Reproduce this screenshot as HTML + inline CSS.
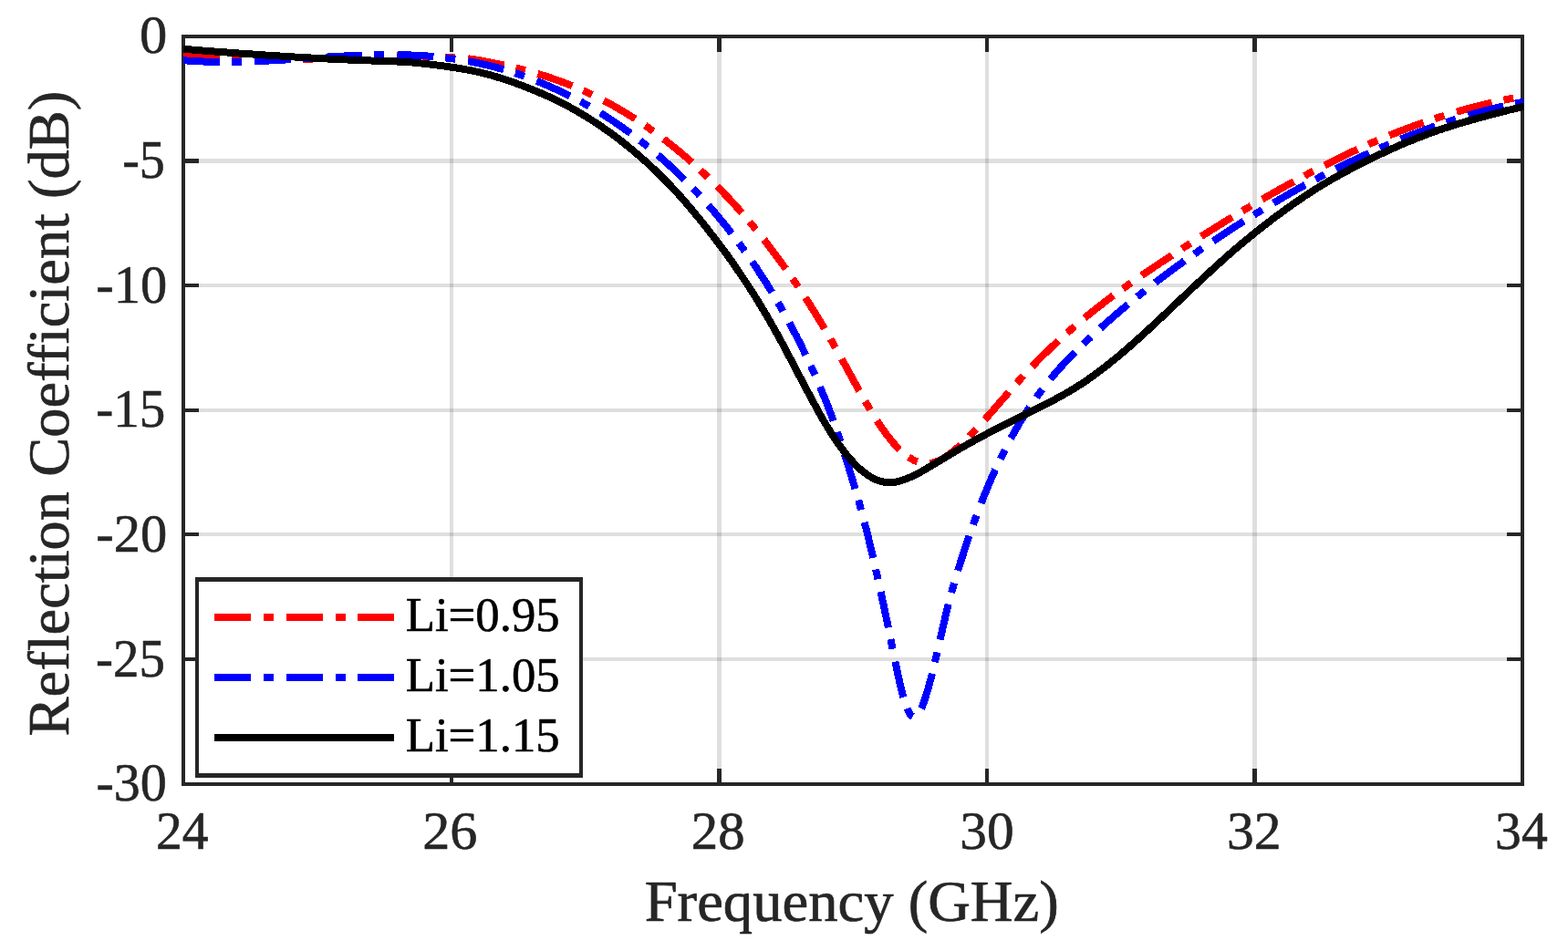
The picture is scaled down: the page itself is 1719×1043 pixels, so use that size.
<!DOCTYPE html>
<html lang="en">
<head>
<meta charset="utf-8">
<title>Reflection Coefficient vs Frequency</title>
<style>
html,body{margin:0;padding:0;background:#fff;}
body{width:1719px;height:1043px;overflow:hidden;}
svg{display:block;}
text{font-family:"Liberation Serif",serif;fill:#262626;stroke:#262626;stroke-linejoin:round;}
.tk{font-size:58.0px;stroke-width:0.6px;}
.lb{font-size:64.0px;stroke-width:0.7px;}
.lg{font-size:54.5px;stroke-width:0.6px;fill:#000;stroke:#000;}
</style>
</head>
<body>
<svg width="1719" height="1043" viewBox="0 0 1719 1043">
<rect x="0" y="0" width="1719" height="1043" fill="#ffffff"/>
<defs><clipPath id="ax"><rect x="201.0" y="40.0" width="1469.5" height="820.0"/></clipPath></defs>

<g fill="#262626" fill-opacity="0.15" shape-rendering="crispEdges">
<rect x="493" y="42" width="4" height="816"/>
<rect x="786" y="42" width="5" height="816"/>
<rect x="1080" y="42" width="4" height="816"/>
<rect x="1373" y="42" width="5" height="816"/>
<rect x="203" y="174" width="1464" height="5"/>
<rect x="203" y="311" width="1464" height="4"/>
<rect x="203" y="448" width="1464" height="4"/>
<rect x="203" y="584" width="1464" height="4"/>
<rect x="203" y="721" width="1464" height="4"/>
</g>
<g fill="#262626" shape-rendering="crispEdges">
<rect x="493" y="40" width="4" height="17"/>
<rect x="493" y="843" width="4" height="17"/>
<rect x="786" y="40" width="5" height="17"/>
<rect x="786" y="843" width="5" height="17"/>
<rect x="1080" y="40" width="4" height="17"/>
<rect x="1080" y="843" width="4" height="17"/>
<rect x="1373" y="40" width="5" height="17"/>
<rect x="1373" y="843" width="5" height="17"/>
<rect x="201" y="174" width="17" height="5"/>
<rect x="1652" y="174" width="17" height="5"/>
<rect x="201" y="311" width="17" height="4"/>
<rect x="1652" y="311" width="17" height="4"/>
<rect x="201" y="448" width="17" height="4"/>
<rect x="1652" y="448" width="17" height="4"/>
<rect x="201" y="584" width="17" height="4"/>
<rect x="1652" y="584" width="17" height="4"/>
<rect x="201" y="721" width="17" height="4"/>
<rect x="1652" y="721" width="17" height="4"/>
</g>
<rect x="201.0" y="40.0" width="1468.0" height="820.0" fill="none" stroke="#262626" stroke-width="4.0" shape-rendering="crispEdges"/>
<g clip-path="url(#ax)" fill="none" stroke-linejoin="round" shape-rendering="crispEdges">
<path d="M201.0,60.4 L203.0,60.6 L205.0,60.8 L207.0,61.0 L209.0,61.2 L211.0,61.4 L213.0,61.6 L215.0,61.7 L217.0,61.9 L219.0,62.0 L221.0,62.2 L223.0,62.3 L225.0,62.5 L227.0,62.6 L229.0,62.7 L231.0,62.9 L233.0,63.0 L235.0,63.1 L237.0,63.2 L239.0,63.3 L241.0,63.4 L243.0,63.5 L245.0,63.5 L247.0,63.6 L249.0,63.7 L251.0,63.8 L253.0,63.8 L255.0,63.9 L257.0,63.9 L259.0,64.0 L261.0,64.0 L263.0,64.1 L265.0,64.1 L267.0,64.1 L269.0,64.2 L271.0,64.2 L273.0,64.2 L275.0,64.2 L277.0,64.2 L279.0,64.2 L281.0,64.2 L283.0,64.2 L285.0,64.2 L287.0,64.2 L289.0,64.2 L291.0,64.2 L293.0,64.2 L295.0,64.2 L297.0,64.1 L299.0,64.1 L301.0,64.1 L303.0,64.1 L305.0,64.1 L307.0,64.2 L309.0,64.2 L311.0,64.3 L313.0,64.3 L315.0,64.4 L317.0,64.5 L319.0,64.6 L321.0,64.7 L323.0,64.7 L325.0,64.8 L327.0,64.9 L329.0,64.9 L331.0,64.9 L333.0,64.9 L335.0,64.9 L337.0,64.9 L339.0,64.8 L341.0,64.7 L343.0,64.6 L345.0,64.5 L347.0,64.4 L349.0,64.2 L351.0,64.1 L353.0,63.9 L355.0,63.8 L357.0,63.6 L359.0,63.4 L361.0,63.3 L363.0,63.1 L365.0,62.9 L367.0,62.8 L369.0,62.6 L371.0,62.5 L373.0,62.4 L375.0,62.2 L377.0,62.1 L379.0,62.0 L381.0,62.0 L383.0,61.9 L385.0,61.8 L387.0,61.8 L389.0,61.7 L391.0,61.6 L393.0,61.6 L395.0,61.5 L397.0,61.5 L399.0,61.4 L401.0,61.4 L403.0,61.3 L405.0,61.3 L407.0,61.2 L409.0,61.2 L411.0,61.2 L413.0,61.1 L415.0,61.1 L417.0,61.1 L419.0,61.0 L421.0,61.0 L423.0,61.0 L425.0,61.0 L427.0,61.0 L429.0,61.0 L431.0,61.0 L433.0,61.0 L435.0,61.0 L437.0,61.0 L439.0,61.0 L441.0,61.0 L443.0,61.0 L445.0,61.1 L447.0,61.1 L449.0,61.1 L451.0,61.2 L453.0,61.2 L455.0,61.3 L457.0,61.3 L459.0,61.4 L461.0,61.4 L463.0,61.5 L465.0,61.5 L467.0,61.6 L469.0,61.7 L471.0,61.8 L473.0,61.8 L475.0,61.9 L477.0,62.0 L479.0,62.1 L481.0,62.2 L483.0,62.3 L485.0,62.4 L487.0,62.5 L489.0,62.6 L491.0,62.7 L493.0,62.8 L495.0,62.9 L497.0,63.0 L499.0,63.1 L501.0,63.2 L503.0,63.4 L505.0,63.5 L507.0,63.7 L509.0,63.9 L511.0,64.1 L513.0,64.3 L515.0,64.5 L517.0,64.8 L519.0,65.1 L521.0,65.4 L523.0,65.7 L525.0,66.0 L527.0,66.4 L529.0,66.7 L531.0,67.1 L533.0,67.5 L535.0,67.9 L537.0,68.3 L539.0,68.7 L541.0,69.1 L543.0,69.5 L545.0,70.0 L547.0,70.4 L549.0,70.8 L551.0,71.2 L553.0,71.7 L555.0,72.1 L557.0,72.5 L559.0,73.0 L561.0,73.4 L563.0,73.9 L565.0,74.4 L567.0,74.9 L569.0,75.3 L571.0,75.8 L573.0,76.4 L575.0,76.9 L577.0,77.4 L579.0,77.9 L581.0,78.5 L583.0,79.0 L585.0,79.6 L587.0,80.2 L589.0,80.8 L591.0,81.4 L593.0,82.0 L595.0,82.6 L597.0,83.2 L599.0,83.9 L601.0,84.5 L603.0,85.2 L605.0,85.9 L607.0,86.6 L609.0,87.3 L611.0,88.0 L613.0,88.7 L615.0,89.4 L617.0,90.2 L619.0,90.9 L621.0,91.7 L623.0,92.5 L625.0,93.3 L627.0,94.1 L629.0,94.9 L631.0,95.7 L633.0,96.6 L635.0,97.4 L637.0,98.3 L639.0,99.2 L641.0,100.1 L643.0,101.0 L645.0,101.9 L647.0,102.9 L649.0,103.8 L651.0,104.8 L653.0,105.8 L655.0,106.8 L657.0,107.8 L659.0,108.8 L661.0,109.8 L663.0,110.9 L665.0,111.9 L667.0,113.0 L669.0,114.1 L671.0,115.2 L673.0,116.3 L675.0,117.5 L677.0,118.6 L679.0,119.8 L681.0,121.0 L683.0,122.1 L685.0,123.3 L687.0,124.6 L689.0,125.8 L691.0,127.0 L693.0,128.3 L695.0,129.6 L697.0,130.9 L699.0,132.2 L701.0,133.5 L703.0,134.8 L705.0,136.2 L707.0,137.6 L709.0,138.9 L711.0,140.3 L713.0,141.7 L715.0,143.2 L717.0,144.6 L719.0,146.1 L721.0,147.5 L723.0,149.0 L725.0,150.5 L727.0,152.0 L729.0,153.6 L731.0,155.1 L733.0,156.7 L735.0,158.3 L737.0,159.9 L739.0,161.5 L741.0,163.1 L743.0,164.7 L745.0,166.4 L747.0,168.1 L749.0,169.8 L751.0,171.5 L753.0,173.2 L755.0,175.0 L757.0,176.7 L759.0,178.5 L761.0,180.3 L763.0,182.1 L765.0,184.0 L767.0,185.8 L769.0,187.7 L771.0,189.6 L773.0,191.5 L775.0,193.4 L777.0,195.3 L779.0,197.2 L781.0,199.2 L783.0,201.2 L785.0,203.2 L787.0,205.2 L789.0,207.2 L791.0,209.2 L793.0,211.3 L795.0,213.4 L797.0,215.5 L799.0,217.6 L801.0,219.7 L803.0,221.9 L805.0,224.1 L807.0,226.3 L809.0,228.5 L811.0,230.8 L813.0,233.0 L815.0,235.3 L817.0,237.7 L819.0,240.0 L821.0,242.4 L823.0,244.8 L825.0,247.2 L827.0,249.7 L829.0,252.1 L831.0,254.6 L833.0,257.1 L835.0,259.6 L837.0,262.2 L839.0,264.7 L841.0,267.3 L843.0,269.9 L845.0,272.5 L847.0,275.2 L849.0,277.9 L851.0,280.5 L853.0,283.2 L855.0,286.0 L857.0,288.7 L859.0,291.5 L861.0,294.3 L863.0,297.1 L865.0,299.9 L867.0,302.8 L869.0,305.7 L871.0,308.6 L873.0,311.5 L875.0,314.5 L877.0,317.5 L879.0,320.5 L881.0,323.5 L883.0,326.6 L885.0,329.7 L887.0,332.9 L889.0,336.0 L891.0,339.2 L893.0,342.4 L895.0,345.7 L897.0,348.9 L899.0,352.2 L901.0,355.5 L903.0,358.9 L905.0,362.3 L907.0,365.7 L909.0,369.1 L911.0,372.6 L913.0,376.1 L915.0,379.6 L917.0,383.2 L919.0,386.8 L921.0,390.4 L923.0,394.0 L925.0,397.7 L927.0,401.3 L929.0,405.0 L931.0,408.6 L933.0,412.3 L935.0,415.9 L937.0,419.6 L939.0,423.2 L941.0,426.8 L943.0,430.4 L945.0,433.9 L947.0,437.4 L949.0,440.9 L951.0,444.3 L953.0,447.7 L955.0,451.0 L957.0,454.3 L959.0,457.5 L961.0,460.6 L963.0,463.7 L965.0,466.7 L967.0,469.6 L969.0,472.4 L971.0,475.2 L973.0,477.9 L975.0,480.4 L977.0,482.9 L979.0,485.3 L981.0,487.6 L983.0,489.8 L985.0,491.9 L987.0,493.8 L989.0,495.7 L991.0,497.4 L993.0,499.1 L995.0,500.6 L997.0,502.0 L999.0,503.2 L1001.0,504.3 L1003.0,505.3 L1005.0,506.2 L1007.0,506.9 L1009.0,507.5 L1011.0,507.9 L1013.0,508.2 L1015.0,508.4 L1017.0,508.4 L1019.0,508.2 L1021.0,507.9 L1023.0,507.4 L1025.0,506.8 L1027.0,506.1 L1029.0,505.3 L1031.0,504.3 L1033.0,503.3 L1035.0,502.1 L1037.0,500.8 L1039.0,499.5 L1041.0,498.0 L1043.0,496.5 L1045.0,494.9 L1047.0,493.3 L1049.0,491.6 L1051.0,489.8 L1053.0,488.0 L1055.0,486.1 L1057.0,484.2 L1059.0,482.3 L1061.0,480.3 L1063.0,478.2 L1065.0,476.2 L1067.0,474.1 L1069.0,472.0 L1071.0,469.8 L1073.0,467.6 L1075.0,465.4 L1077.0,463.2 L1079.0,461.0 L1081.0,458.7 L1083.0,456.5 L1085.0,454.2 L1087.0,451.9 L1089.0,449.6 L1091.0,447.3 L1093.0,445.0 L1095.0,442.7 L1097.0,440.4 L1099.0,438.1 L1101.0,435.8 L1103.0,433.5 L1105.0,431.2 L1107.0,428.9 L1109.0,426.6 L1111.0,424.3 L1113.0,422.1 L1115.0,419.8 L1117.0,417.6 L1119.0,415.4 L1121.0,413.2 L1123.0,411.0 L1125.0,408.9 L1127.0,406.7 L1129.0,404.6 L1131.0,402.5 L1133.0,400.4 L1135.0,398.4 L1137.0,396.3 L1139.0,394.3 L1141.0,392.3 L1143.0,390.3 L1145.0,388.3 L1147.0,386.4 L1149.0,384.5 L1151.0,382.5 L1153.0,380.6 L1155.0,378.7 L1157.0,376.9 L1159.0,375.0 L1161.0,373.2 L1163.0,371.3 L1165.0,369.5 L1167.0,367.7 L1169.0,365.9 L1171.0,364.1 L1173.0,362.4 L1175.0,360.6 L1177.0,358.9 L1179.0,357.2 L1181.0,355.5 L1183.0,353.8 L1185.0,352.1 L1187.0,350.5 L1189.0,348.8 L1191.0,347.2 L1193.0,345.5 L1195.0,343.9 L1197.0,342.3 L1199.0,340.7 L1201.0,339.1 L1203.0,337.6 L1205.0,336.0 L1207.0,334.4 L1209.0,332.9 L1211.0,331.4 L1213.0,329.8 L1215.0,328.3 L1217.0,326.8 L1219.0,325.3 L1221.0,323.8 L1223.0,322.4 L1225.0,320.9 L1227.0,319.4 L1229.0,318.0 L1231.0,316.5 L1233.0,315.1 L1235.0,313.7 L1237.0,312.3 L1239.0,310.8 L1241.0,309.4 L1243.0,308.0 L1245.0,306.6 L1247.0,305.3 L1249.0,303.9 L1251.0,302.5 L1253.0,301.1 L1255.0,299.8 L1257.0,298.4 L1259.0,297.1 L1261.0,295.7 L1263.0,294.4 L1265.0,293.0 L1267.0,291.7 L1269.0,290.4 L1271.0,289.0 L1273.0,287.7 L1275.0,286.4 L1277.0,285.1 L1279.0,283.7 L1281.0,282.4 L1283.0,281.1 L1285.0,279.8 L1287.0,278.5 L1289.0,277.2 L1291.0,275.9 L1293.0,274.6 L1295.0,273.3 L1297.0,272.0 L1299.0,270.7 L1301.0,269.4 L1303.0,268.1 L1305.0,266.9 L1307.0,265.6 L1309.0,264.3 L1311.0,263.0 L1313.0,261.7 L1315.0,260.5 L1317.0,259.2 L1319.0,257.9 L1321.0,256.7 L1323.0,255.4 L1325.0,254.2 L1327.0,252.9 L1329.0,251.7 L1331.0,250.4 L1333.0,249.2 L1335.0,247.9 L1337.0,246.7 L1339.0,245.4 L1341.0,244.2 L1343.0,243.0 L1345.0,241.7 L1347.0,240.5 L1349.0,239.3 L1351.0,238.1 L1353.0,236.9 L1355.0,235.7 L1357.0,234.4 L1359.0,233.2 L1361.0,232.0 L1363.0,230.8 L1365.0,229.6 L1367.0,228.5 L1369.0,227.3 L1371.0,226.1 L1373.0,224.9 L1375.0,223.7 L1377.0,222.5 L1379.0,221.4 L1381.0,220.2 L1383.0,219.0 L1385.0,217.9 L1387.0,216.7 L1389.0,215.6 L1391.0,214.4 L1393.0,213.3 L1395.0,212.1 L1397.0,211.0 L1399.0,209.9 L1401.0,208.8 L1403.0,207.6 L1405.0,206.5 L1407.0,205.4 L1409.0,204.3 L1411.0,203.2 L1413.0,202.1 L1415.0,201.0 L1417.0,199.9 L1419.0,198.8 L1421.0,197.7 L1423.0,196.6 L1425.0,195.5 L1427.0,194.4 L1429.0,193.4 L1431.0,192.3 L1433.0,191.3 L1435.0,190.2 L1437.0,189.1 L1439.0,188.1 L1441.0,187.1 L1443.0,186.0 L1445.0,185.0 L1447.0,183.9 L1449.0,182.9 L1451.0,181.9 L1453.0,180.9 L1455.0,179.9 L1457.0,178.9 L1459.0,177.9 L1461.0,176.9 L1463.0,175.9 L1465.0,174.9 L1467.0,173.9 L1469.0,172.9 L1471.0,172.0 L1473.0,171.0 L1475.0,170.0 L1477.0,169.1 L1479.0,168.1 L1481.0,167.2 L1483.0,166.2 L1485.0,165.3 L1487.0,164.4 L1489.0,163.4 L1491.0,162.5 L1493.0,161.6 L1495.0,160.7 L1497.0,159.8 L1499.0,158.9 L1501.0,158.0 L1503.0,157.1 L1505.0,156.2 L1507.0,155.4 L1509.0,154.5 L1511.0,153.6 L1513.0,152.8 L1515.0,151.9 L1517.0,151.1 L1519.0,150.3 L1521.0,149.4 L1523.0,148.6 L1525.0,147.8 L1527.0,147.0 L1529.0,146.2 L1531.0,145.4 L1533.0,144.6 L1535.0,143.8 L1537.0,143.1 L1539.0,142.3 L1541.0,141.5 L1543.0,140.8 L1545.0,140.0 L1547.0,139.3 L1549.0,138.6 L1551.0,137.8 L1553.0,137.1 L1555.0,136.4 L1557.0,135.7 L1559.0,135.0 L1561.0,134.3 L1563.0,133.6 L1565.0,132.9 L1567.0,132.2 L1569.0,131.5 L1571.0,130.9 L1573.0,130.2 L1575.0,129.5 L1577.0,128.9 L1579.0,128.2 L1581.0,127.6 L1583.0,127.0 L1585.0,126.3 L1587.0,125.7 L1589.0,125.1 L1591.0,124.5 L1593.0,123.9 L1595.0,123.3 L1597.0,122.7 L1599.0,122.1 L1601.0,121.5 L1603.0,120.9 L1605.0,120.4 L1607.0,119.8 L1609.0,119.2 L1611.0,118.7 L1613.0,118.2 L1615.0,117.6 L1617.0,117.1 L1619.0,116.6 L1621.0,116.1 L1623.0,115.6 L1625.0,115.1 L1627.0,114.6 L1629.0,114.1 L1631.0,113.6 L1633.0,113.1 L1635.0,112.7 L1637.0,112.2 L1639.0,111.8 L1641.0,111.3 L1643.0,110.9 L1645.0,110.5 L1647.0,110.0 L1649.0,109.6 L1651.0,109.2 L1653.0,108.8 L1655.0,108.4 L1657.0,108.0 L1659.0,107.7 L1661.0,107.3 L1663.0,106.9 L1665.0,106.6 L1667.0,106.2 L1669.0,105.9 L1672.0,105.4" stroke="#ff0000" stroke-width="8.0" stroke-dasharray="40.1 13 11 14.05" stroke-dashoffset="0.0"/>
<path d="M201.0,66.2 L203.0,66.3 L205.0,66.5 L207.0,66.6 L209.0,66.8 L211.0,66.9 L213.0,67.0 L215.0,67.1 L217.0,67.2 L219.0,67.3 L221.0,67.4 L223.0,67.5 L225.0,67.6 L227.0,67.6 L229.0,67.7 L231.0,67.7 L233.0,67.8 L235.0,67.8 L237.0,67.9 L239.0,67.9 L241.0,67.9 L243.0,67.9 L245.0,67.9 L247.0,67.9 L249.0,67.9 L251.0,67.9 L253.0,67.9 L255.0,67.9 L257.0,67.9 L259.0,67.8 L261.0,67.8 L263.0,67.8 L265.0,67.7 L267.0,67.7 L269.0,67.6 L271.0,67.5 L273.0,67.5 L275.0,67.4 L277.0,67.3 L279.0,67.3 L281.0,67.2 L283.0,67.1 L285.0,67.0 L287.0,66.9 L289.0,66.8 L291.0,66.7 L293.0,66.6 L295.0,66.5 L297.0,66.4 L299.0,66.3 L301.0,66.2 L303.0,66.1 L305.0,66.0 L307.0,65.9 L309.0,65.8 L311.0,65.6 L313.0,65.5 L315.0,65.4 L317.0,65.3 L319.0,65.1 L321.0,65.0 L323.0,64.9 L325.0,64.8 L327.0,64.6 L329.0,64.5 L331.0,64.4 L333.0,64.2 L335.0,64.1 L337.0,64.0 L339.0,63.8 L341.0,63.7 L343.0,63.6 L345.0,63.4 L347.0,63.3 L349.0,63.2 L351.0,63.1 L353.0,62.9 L355.0,62.8 L357.0,62.7 L359.0,62.5 L361.0,62.4 L363.0,62.3 L365.0,62.2 L367.0,62.1 L369.0,61.9 L371.0,61.8 L373.0,61.7 L375.0,61.6 L377.0,61.5 L379.0,61.4 L381.0,61.3 L383.0,61.2 L385.0,61.1 L387.0,61.0 L389.0,60.9 L391.0,60.8 L393.0,60.8 L395.0,60.7 L397.0,60.6 L399.0,60.5 L401.0,60.5 L403.0,60.4 L405.0,60.3 L407.0,60.3 L409.0,60.2 L411.0,60.2 L413.0,60.1 L415.0,60.1 L417.0,60.1 L419.0,60.1 L421.0,60.0 L423.0,60.0 L425.0,60.0 L427.0,60.0 L429.0,60.0 L431.0,60.0 L433.0,60.0 L435.0,60.0 L437.0,60.1 L439.0,60.1 L441.0,60.1 L443.0,60.2 L445.0,60.2 L447.0,60.3 L449.0,60.4 L451.0,60.5 L453.0,60.5 L455.0,60.6 L457.0,60.7 L459.0,60.8 L461.0,60.9 L463.0,61.1 L465.0,61.2 L467.0,61.3 L469.0,61.5 L471.0,61.6 L473.0,61.8 L475.0,62.0 L477.0,62.1 L479.0,62.3 L481.0,62.5 L483.0,62.7 L485.0,63.0 L487.0,63.2 L489.0,63.4 L491.0,63.7 L493.0,63.9 L495.0,64.2 L497.0,64.5 L499.0,64.8 L501.0,65.0 L503.0,65.4 L505.0,65.7 L507.0,66.0 L509.0,66.3 L511.0,66.7 L513.0,67.1 L515.0,67.4 L517.0,67.8 L519.0,68.2 L521.0,68.6 L523.0,69.0 L525.0,69.4 L527.0,69.9 L529.0,70.3 L531.0,70.8 L533.0,71.2 L535.0,71.7 L537.0,72.2 L539.0,72.7 L541.0,73.2 L543.0,73.7 L545.0,74.2 L547.0,74.8 L549.0,75.3 L551.0,75.9 L553.0,76.5 L555.0,77.1 L557.0,77.7 L559.0,78.3 L561.0,78.9 L563.0,79.5 L565.0,80.2 L567.0,80.9 L569.0,81.5 L571.0,82.2 L573.0,82.9 L575.0,83.7 L577.0,84.4 L579.0,85.2 L581.0,85.9 L583.0,86.7 L585.0,87.5 L587.0,88.3 L589.0,89.1 L591.0,89.9 L593.0,90.7 L595.0,91.6 L597.0,92.4 L599.0,93.3 L601.0,94.1 L603.0,95.0 L605.0,95.9 L607.0,96.8 L609.0,97.7 L611.0,98.6 L613.0,99.5 L615.0,100.4 L617.0,101.4 L619.0,102.4 L621.0,103.3 L623.0,104.3 L625.0,105.3 L627.0,106.3 L629.0,107.4 L631.0,108.4 L633.0,109.4 L635.0,110.5 L637.0,111.6 L639.0,112.7 L641.0,113.8 L643.0,114.9 L645.0,116.0 L647.0,117.1 L649.0,118.3 L651.0,119.5 L653.0,120.6 L655.0,121.8 L657.0,123.1 L659.0,124.3 L661.0,125.5 L663.0,126.8 L665.0,128.1 L667.0,129.4 L669.0,130.7 L671.0,132.0 L673.0,133.3 L675.0,134.7 L677.0,136.1 L679.0,137.4 L681.0,138.8 L683.0,140.3 L685.0,141.7 L687.0,143.1 L689.0,144.6 L691.0,146.0 L693.0,147.5 L695.0,149.0 L697.0,150.5 L699.0,152.1 L701.0,153.6 L703.0,155.2 L705.0,156.7 L707.0,158.3 L709.0,159.9 L711.0,161.5 L713.0,163.2 L715.0,164.8 L717.0,166.5 L719.0,168.2 L721.0,169.9 L723.0,171.6 L725.0,173.4 L727.0,175.1 L729.0,176.9 L731.0,178.7 L733.0,180.5 L735.0,182.4 L737.0,184.2 L739.0,186.1 L741.0,188.0 L743.0,189.9 L745.0,191.8 L747.0,193.8 L749.0,195.7 L751.0,197.7 L753.0,199.7 L755.0,201.8 L757.0,203.8 L759.0,205.9 L761.0,208.0 L763.0,210.1 L765.0,212.2 L767.0,214.4 L769.0,216.5 L771.0,218.7 L773.0,221.0 L775.0,223.2 L777.0,225.5 L779.0,227.8 L781.0,230.1 L783.0,232.4 L785.0,234.8 L787.0,237.2 L789.0,239.6 L791.0,242.0 L793.0,244.5 L795.0,246.9 L797.0,249.4 L799.0,252.0 L801.0,254.5 L803.0,257.1 L805.0,259.8 L807.0,262.4 L809.0,265.1 L811.0,267.8 L813.0,270.5 L815.0,273.3 L817.0,276.0 L819.0,278.9 L821.0,281.7 L823.0,284.6 L825.0,287.5 L827.0,290.5 L829.0,293.4 L831.0,296.5 L833.0,299.5 L835.0,302.6 L837.0,305.7 L839.0,308.8 L841.0,312.0 L843.0,315.2 L845.0,318.5 L847.0,321.8 L849.0,325.1 L851.0,328.5 L853.0,331.9 L855.0,335.3 L857.0,338.8 L859.0,342.4 L861.0,345.9 L863.0,349.6 L865.0,353.2 L867.0,357.0 L869.0,360.7 L871.0,364.6 L873.0,368.4 L875.0,372.4 L877.0,376.4 L879.0,380.4 L881.0,384.5 L883.0,388.7 L885.0,392.9 L887.0,397.2 L889.0,401.5 L891.0,406.0 L893.0,410.4 L895.0,415.0 L897.0,419.6 L899.0,424.3 L901.0,429.1 L903.0,433.9 L905.0,438.8 L907.0,443.9 L909.0,449.0 L911.0,454.3 L913.0,459.7 L915.0,465.2 L917.0,470.9 L919.0,476.8 L921.0,482.8 L923.0,489.0 L925.0,495.3 L927.0,501.6 L929.0,508.0 L931.0,514.4 L933.0,521.0 L935.0,527.6 L937.0,534.3 L939.0,541.1 L941.0,548.1 L943.0,555.3 L945.0,562.6 L947.0,570.1 L949.0,577.9 L951.0,585.8 L953.0,594.0 L955.0,602.3 L957.0,610.8 L959.0,619.5 L961.0,628.3 L963.0,637.3 L965.0,646.4 L967.0,655.7 L969.0,665.1 L971.0,674.6 L973.0,684.2 L975.0,694.0 L977.0,703.8 L979.0,713.7 L981.0,723.5 L983.0,733.2 L985.0,742.5 L987.0,751.3 L989.0,759.4 L991.0,766.8 L993.0,773.2 L995.0,778.4 L997.0,782.4 L999.0,785.0 L1001.0,786.2 L1003.0,786.1 L1005.0,784.9 L1007.0,782.5 L1009.0,779.1 L1011.0,774.7 L1013.0,769.6 L1015.0,763.6 L1017.0,757.0 L1019.0,749.9 L1021.0,742.2 L1023.0,734.2 L1025.0,725.8 L1027.0,717.3 L1029.0,708.5 L1031.0,699.8 L1033.0,691.0 L1035.0,682.4 L1037.0,673.9 L1039.0,665.7 L1041.0,657.9 L1043.0,650.5 L1045.0,643.3 L1047.0,636.4 L1049.0,629.7 L1051.0,623.2 L1053.0,616.7 L1055.0,610.5 L1057.0,604.3 L1059.0,598.2 L1061.0,592.3 L1063.0,586.4 L1065.0,580.7 L1067.0,575.1 L1069.0,569.6 L1071.0,564.1 L1073.0,558.8 L1075.0,553.6 L1077.0,548.5 L1079.0,543.5 L1081.0,538.6 L1083.0,533.8 L1085.0,529.1 L1087.0,524.5 L1089.0,519.9 L1091.0,515.5 L1093.0,511.1 L1095.0,506.9 L1097.0,502.7 L1099.0,498.6 L1101.0,494.6 L1103.0,490.7 L1105.0,486.8 L1107.0,483.0 L1109.0,479.3 L1111.0,475.7 L1113.0,472.1 L1115.0,468.7 L1117.0,465.2 L1119.0,461.9 L1121.0,458.6 L1123.0,455.4 L1125.0,452.3 L1127.0,449.2 L1129.0,446.2 L1131.0,443.2 L1133.0,440.3 L1135.0,437.4 L1137.0,434.6 L1139.0,431.9 L1141.0,429.2 L1143.0,426.6 L1145.0,424.0 L1147.0,421.4 L1149.0,418.9 L1151.0,416.5 L1153.0,414.0 L1155.0,411.7 L1157.0,409.3 L1159.0,407.0 L1161.0,404.8 L1163.0,402.6 L1165.0,400.4 L1167.0,398.2 L1169.0,396.1 L1171.0,394.0 L1173.0,391.9 L1175.0,389.8 L1177.0,387.8 L1179.0,385.8 L1181.0,383.8 L1183.0,381.9 L1185.0,379.9 L1187.0,378.0 L1189.0,376.1 L1191.0,374.2 L1193.0,372.3 L1195.0,370.4 L1197.0,368.6 L1199.0,366.7 L1201.0,364.9 L1203.0,363.1 L1205.0,361.2 L1207.0,359.4 L1209.0,357.6 L1211.0,355.8 L1213.0,354.1 L1215.0,352.3 L1217.0,350.5 L1219.0,348.8 L1221.0,347.0 L1223.0,345.3 L1225.0,343.6 L1227.0,341.9 L1229.0,340.2 L1231.0,338.5 L1233.0,336.8 L1235.0,335.1 L1237.0,333.5 L1239.0,331.8 L1241.0,330.2 L1243.0,328.5 L1245.0,326.9 L1247.0,325.3 L1249.0,323.7 L1251.0,322.1 L1253.0,320.5 L1255.0,318.9 L1257.0,317.3 L1259.0,315.7 L1261.0,314.2 L1263.0,312.6 L1265.0,311.1 L1267.0,309.5 L1269.0,308.0 L1271.0,306.5 L1273.0,305.0 L1275.0,303.5 L1277.0,301.9 L1279.0,300.5 L1281.0,299.0 L1283.0,297.5 L1285.0,296.0 L1287.0,294.5 L1289.0,293.1 L1291.0,291.6 L1293.0,290.2 L1295.0,288.7 L1297.0,287.3 L1299.0,285.9 L1301.0,284.4 L1303.0,283.0 L1305.0,281.6 L1307.0,280.2 L1309.0,278.8 L1311.0,277.4 L1313.0,276.0 L1315.0,274.6 L1317.0,273.3 L1319.0,271.9 L1321.0,270.5 L1323.0,269.1 L1325.0,267.8 L1327.0,266.4 L1329.0,265.1 L1331.0,263.7 L1333.0,262.4 L1335.0,261.1 L1337.0,259.7 L1339.0,258.4 L1341.0,257.1 L1343.0,255.8 L1345.0,254.5 L1347.0,253.2 L1349.0,251.9 L1351.0,250.6 L1353.0,249.3 L1355.0,248.0 L1357.0,246.7 L1359.0,245.4 L1361.0,244.2 L1363.0,242.9 L1365.0,241.7 L1367.0,240.4 L1369.0,239.2 L1371.0,237.9 L1373.0,236.7 L1375.0,235.4 L1377.0,234.2 L1379.0,233.0 L1381.0,231.8 L1383.0,230.5 L1385.0,229.3 L1387.0,228.1 L1389.0,226.9 L1391.0,225.7 L1393.0,224.5 L1395.0,223.3 L1397.0,222.1 L1399.0,221.0 L1401.0,219.8 L1403.0,218.6 L1405.0,217.5 L1407.0,216.3 L1409.0,215.1 L1411.0,214.0 L1413.0,212.8 L1415.0,211.7 L1417.0,210.5 L1419.0,209.4 L1421.0,208.3 L1423.0,207.2 L1425.0,206.0 L1427.0,204.9 L1429.0,203.8 L1431.0,202.7 L1433.0,201.7 L1435.0,200.6 L1437.0,199.5 L1439.0,198.4 L1441.0,197.4 L1443.0,196.3 L1445.0,195.3 L1447.0,194.2 L1449.0,193.2 L1451.0,192.2 L1453.0,191.1 L1455.0,190.1 L1457.0,189.1 L1459.0,188.1 L1461.0,187.1 L1463.0,186.1 L1465.0,185.1 L1467.0,184.1 L1469.0,183.1 L1471.0,182.1 L1473.0,181.1 L1475.0,180.2 L1477.0,179.2 L1479.0,178.2 L1481.0,177.2 L1483.0,176.3 L1485.0,175.3 L1487.0,174.4 L1489.0,173.4 L1491.0,172.5 L1493.0,171.5 L1495.0,170.6 L1497.0,169.7 L1499.0,168.8 L1501.0,167.8 L1503.0,166.9 L1505.0,166.0 L1507.0,165.1 L1509.0,164.2 L1511.0,163.3 L1513.0,162.4 L1515.0,161.6 L1517.0,160.7 L1519.0,159.8 L1521.0,159.0 L1523.0,158.1 L1525.0,157.2 L1527.0,156.4 L1529.0,155.6 L1531.0,154.7 L1533.0,153.9 L1535.0,153.1 L1537.0,152.2 L1539.0,151.4 L1541.0,150.6 L1543.0,149.8 L1545.0,149.0 L1547.0,148.2 L1549.0,147.4 L1551.0,146.7 L1553.0,145.9 L1555.0,145.1 L1557.0,144.4 L1559.0,143.6 L1561.0,142.9 L1563.0,142.1 L1565.0,141.4 L1567.0,140.7 L1569.0,139.9 L1571.0,139.2 L1573.0,138.5 L1575.0,137.8 L1577.0,137.1 L1579.0,136.4 L1581.0,135.7 L1583.0,135.1 L1585.0,134.4 L1587.0,133.7 L1589.0,133.1 L1591.0,132.4 L1593.0,131.8 L1595.0,131.1 L1597.0,130.5 L1599.0,129.9 L1601.0,129.2 L1603.0,128.6 L1605.0,128.0 L1607.0,127.4 L1609.0,126.8 L1611.0,126.2 L1613.0,125.6 L1615.0,125.1 L1617.0,124.5 L1619.0,123.9 L1621.0,123.4 L1623.0,122.8 L1625.0,122.3 L1627.0,121.7 L1629.0,121.2 L1631.0,120.7 L1633.0,120.1 L1635.0,119.6 L1637.0,119.1 L1639.0,118.6 L1641.0,118.1 L1643.0,117.7 L1645.0,117.2 L1647.0,116.7 L1649.0,116.3 L1651.0,115.8 L1653.0,115.4 L1655.0,114.9 L1657.0,114.5 L1659.0,114.1 L1661.0,113.6 L1663.0,113.2 L1665.0,112.8 L1667.0,112.4 L1669.0,112.1 L1672.0,111.5" stroke="#0000ff" stroke-width="8.0" stroke-dasharray="40.1 13 11 14.15" stroke-dashoffset="0.0"/>
<path d="M201.0,53.8 L203.0,54.0 L205.0,54.1 L207.0,54.3 L209.0,54.4 L211.0,54.6 L213.0,54.8 L215.0,54.9 L217.0,55.1 L219.0,55.2 L221.0,55.4 L223.0,55.6 L225.0,55.7 L227.0,55.9 L229.0,56.0 L231.0,56.2 L233.0,56.3 L235.0,56.5 L237.0,56.6 L239.0,56.8 L241.0,56.9 L243.0,57.1 L245.0,57.2 L247.0,57.4 L249.0,57.5 L251.0,57.7 L253.0,57.8 L255.0,58.0 L257.0,58.1 L259.0,58.3 L261.0,58.4 L263.0,58.6 L265.0,58.7 L267.0,58.8 L269.0,59.0 L271.0,59.1 L273.0,59.3 L275.0,59.4 L277.0,59.5 L279.0,59.7 L281.0,59.8 L283.0,60.0 L285.0,60.1 L287.0,60.2 L289.0,60.4 L291.0,60.5 L293.0,60.6 L295.0,60.8 L297.0,60.9 L299.0,61.0 L301.0,61.1 L303.0,61.3 L305.0,61.4 L307.0,61.5 L309.0,61.7 L311.0,61.8 L313.0,61.9 L315.0,62.0 L317.0,62.1 L319.0,62.3 L321.0,62.4 L323.0,62.5 L325.0,62.6 L327.0,62.7 L329.0,62.9 L331.0,63.0 L333.0,63.1 L335.0,63.2 L337.0,63.3 L339.0,63.4 L341.0,63.5 L343.0,63.6 L345.0,63.7 L347.0,63.8 L349.0,64.0 L351.0,64.1 L353.0,64.2 L355.0,64.3 L357.0,64.4 L359.0,64.5 L361.0,64.6 L363.0,64.7 L365.0,64.8 L367.0,64.8 L369.0,64.9 L371.0,65.0 L373.0,65.1 L375.0,65.2 L377.0,65.3 L379.0,65.4 L381.0,65.5 L383.0,65.6 L385.0,65.6 L387.0,65.7 L389.0,65.8 L391.0,65.9 L393.0,66.0 L395.0,66.0 L397.0,66.1 L399.0,66.2 L401.0,66.3 L403.0,66.3 L405.0,66.4 L407.0,66.5 L409.0,66.6 L411.0,66.6 L413.0,66.7 L415.0,66.8 L417.0,66.8 L419.0,66.9 L421.0,67.0 L423.0,67.0 L425.0,67.1 L427.0,67.2 L429.0,67.3 L431.0,67.3 L433.0,67.4 L435.0,67.5 L437.0,67.6 L439.0,67.7 L441.0,67.8 L443.0,67.9 L445.0,68.0 L447.0,68.1 L449.0,68.3 L451.0,68.4 L453.0,68.6 L455.0,68.8 L457.0,69.0 L459.0,69.2 L461.0,69.4 L463.0,69.6 L465.0,69.8 L467.0,70.0 L469.0,70.3 L471.0,70.5 L473.0,70.8 L475.0,71.0 L477.0,71.2 L479.0,71.5 L481.0,71.7 L483.0,72.0 L485.0,72.3 L487.0,72.5 L489.0,72.8 L491.0,73.1 L493.0,73.4 L495.0,73.7 L497.0,74.0 L499.0,74.3 L501.0,74.6 L503.0,74.9 L505.0,75.3 L507.0,75.6 L509.0,76.0 L511.0,76.3 L513.0,76.7 L515.0,77.0 L517.0,77.4 L519.0,77.8 L521.0,78.3 L523.0,78.7 L525.0,79.1 L527.0,79.6 L529.0,80.1 L531.0,80.6 L533.0,81.1 L535.0,81.6 L537.0,82.2 L539.0,82.7 L541.0,83.3 L543.0,83.9 L545.0,84.5 L547.0,85.1 L549.0,85.7 L551.0,86.3 L553.0,87.0 L555.0,87.7 L557.0,88.3 L559.0,89.0 L561.0,89.7 L563.0,90.4 L565.0,91.1 L567.0,91.9 L569.0,92.6 L571.0,93.4 L573.0,94.1 L575.0,94.9 L577.0,95.7 L579.0,96.5 L581.0,97.3 L583.0,98.1 L585.0,98.9 L587.0,99.7 L589.0,100.5 L591.0,101.4 L593.0,102.2 L595.0,103.1 L597.0,104.0 L599.0,104.8 L601.0,105.7 L603.0,106.7 L605.0,107.6 L607.0,108.5 L609.0,109.5 L611.0,110.5 L613.0,111.4 L615.0,112.4 L617.0,113.5 L619.0,114.5 L621.0,115.6 L623.0,116.6 L625.0,117.7 L627.0,118.8 L629.0,119.9 L631.0,121.1 L633.0,122.2 L635.0,123.4 L637.0,124.6 L639.0,125.8 L641.0,127.0 L643.0,128.2 L645.0,129.4 L647.0,130.7 L649.0,132.0 L651.0,133.3 L653.0,134.6 L655.0,135.9 L657.0,137.2 L659.0,138.6 L661.0,140.0 L663.0,141.4 L665.0,142.8 L667.0,144.2 L669.0,145.6 L671.0,147.1 L673.0,148.6 L675.0,150.1 L677.0,151.6 L679.0,153.1 L681.0,154.6 L683.0,156.2 L685.0,157.8 L687.0,159.4 L689.0,161.0 L691.0,162.7 L693.0,164.3 L695.0,166.0 L697.0,167.7 L699.0,169.4 L701.0,171.1 L703.0,172.9 L705.0,174.7 L707.0,176.4 L709.0,178.2 L711.0,180.1 L713.0,181.9 L715.0,183.7 L717.0,185.6 L719.0,187.5 L721.0,189.4 L723.0,191.4 L725.0,193.4 L727.0,195.4 L729.0,197.4 L731.0,199.4 L733.0,201.5 L735.0,203.6 L737.0,205.7 L738.9,207.8 L740.9,209.9 L742.9,212.1 L744.8,214.2 L746.8,216.4 L748.7,218.7 L750.7,220.9 L752.6,223.1 L754.6,225.4 L756.5,227.7 L758.5,230.0 L760.4,232.3 L762.3,234.7 L764.3,237.1 L766.2,239.4 L768.2,241.8 L770.1,244.3 L772.1,246.7 L774.0,249.2 L776.0,251.7 L777.9,254.2 L779.9,256.7 L781.9,259.3 L783.8,261.8 L785.8,264.4 L787.8,267.1 L789.8,269.7 L791.8,272.4 L793.8,275.1 L795.8,277.8 L797.8,280.5 L799.8,283.3 L801.8,286.1 L803.8,288.9 L805.7,291.8 L807.7,294.7 L809.7,297.6 L811.7,300.5 L813.7,303.5 L815.7,306.5 L817.7,309.5 L819.7,312.5 L821.7,315.6 L823.7,318.7 L825.7,321.9 L827.7,325.0 L829.7,328.3 L831.7,331.5 L833.7,334.8 L835.7,338.1 L837.7,341.4 L839.7,344.8 L841.7,348.2 L843.6,351.6 L845.6,355.1 L847.6,358.6 L849.6,362.1 L851.6,365.7 L853.6,369.3 L855.6,373.0 L857.6,376.6 L859.6,380.4 L861.6,384.1 L863.6,387.9 L865.6,391.7 L867.6,395.5 L869.6,399.3 L871.6,403.1 L873.6,406.9 L875.6,410.8 L877.6,414.6 L879.6,418.4 L881.6,422.2 L883.6,426.0 L885.6,429.8 L887.6,433.5 L889.6,437.3 L891.6,441.0 L893.6,444.6 L895.6,448.2 L897.6,451.8 L899.5,455.4 L901.5,458.8 L903.5,462.3 L905.5,465.6 L907.5,469.0 L909.5,472.2 L911.5,475.4 L913.5,478.5 L915.5,481.5 L917.5,484.5 L919.5,487.3 L921.5,490.1 L923.5,492.8 L925.5,495.4 L927.5,498.0 L929.5,500.4 L931.5,502.8 L933.5,505.0 L935.5,507.2 L937.5,509.3 L939.5,511.3 L941.5,513.2 L943.5,515.0 L945.5,516.6 L947.5,518.2 L949.5,519.7 L951.5,521.1 L953.5,522.4 L955.5,523.6 L957.5,524.7 L959.5,525.6 L961.5,526.5 L963.5,527.2 L965.5,527.8 L967.5,528.3 L969.5,528.7 L971.5,529.0 L973.5,529.2 L975.5,529.2 L977.5,529.1 L979.5,528.9 L981.5,528.7 L983.5,528.3 L985.5,527.8 L987.6,527.2 L989.7,526.5 L991.9,525.8 L994.0,525.0 L996.2,524.1 L998.4,523.2 L1000.6,522.2 L1002.7,521.1 L1004.8,520.1 L1006.9,519.0 L1009.0,517.9 L1011.0,516.7 L1013.0,515.6 L1015.0,514.4 L1017.0,513.2 L1019.0,512.0 L1021.0,510.8 L1023.0,509.6 L1025.0,508.4 L1027.0,507.2 L1029.0,506.0 L1031.0,504.8 L1033.0,503.6 L1035.0,502.4 L1037.0,501.2 L1039.0,500.0 L1041.0,498.8 L1043.0,497.6 L1045.0,496.4 L1047.0,495.2 L1049.0,494.1 L1051.0,492.9 L1053.0,491.7 L1055.0,490.6 L1057.0,489.4 L1059.0,488.3 L1061.0,487.2 L1063.0,486.0 L1065.0,484.9 L1067.0,483.8 L1069.0,482.7 L1071.0,481.6 L1073.0,480.5 L1075.0,479.5 L1077.0,478.4 L1079.0,477.3 L1081.0,476.3 L1083.0,475.2 L1085.0,474.2 L1087.0,473.1 L1089.0,472.1 L1091.0,471.0 L1093.0,470.0 L1095.0,469.0 L1097.0,468.0 L1099.0,467.0 L1101.0,465.9 L1103.0,464.9 L1105.0,463.9 L1107.0,462.9 L1109.0,461.9 L1111.0,460.9 L1113.0,459.9 L1115.0,459.0 L1117.0,458.0 L1119.0,457.0 L1121.0,456.0 L1123.0,455.0 L1125.0,454.0 L1127.0,453.1 L1129.0,452.1 L1131.0,451.1 L1133.0,450.1 L1135.0,449.1 L1137.0,448.1 L1139.0,447.1 L1141.0,446.1 L1143.0,445.1 L1145.0,444.1 L1147.0,443.1 L1149.0,442.0 L1151.0,441.0 L1153.0,439.9 L1155.0,438.9 L1157.0,437.8 L1159.0,436.7 L1161.0,435.6 L1163.0,434.5 L1165.0,433.4 L1167.0,432.3 L1169.0,431.1 L1171.0,430.0 L1173.0,428.8 L1175.0,427.6 L1177.0,426.4 L1179.0,425.2 L1181.0,423.9 L1183.0,422.6 L1185.0,421.4 L1187.0,420.1 L1189.0,418.7 L1191.0,417.4 L1193.0,416.0 L1195.0,414.6 L1197.0,413.2 L1199.0,411.8 L1201.0,410.3 L1203.0,408.8 L1205.0,407.4 L1207.0,405.8 L1209.0,404.3 L1211.0,402.8 L1213.0,401.2 L1215.0,399.6 L1217.0,398.0 L1219.0,396.4 L1221.0,394.8 L1223.0,393.1 L1225.0,391.5 L1227.0,389.8 L1229.0,388.1 L1231.0,386.4 L1233.0,384.7 L1235.0,383.0 L1237.0,381.3 L1239.0,379.5 L1241.0,377.7 L1243.0,376.0 L1245.0,374.2 L1247.0,372.4 L1249.0,370.6 L1251.0,368.8 L1253.0,367.0 L1255.0,365.1 L1257.0,363.3 L1259.0,361.5 L1261.0,359.6 L1263.0,357.8 L1265.0,355.9 L1267.0,354.1 L1269.0,352.2 L1271.0,350.3 L1273.0,348.4 L1275.0,346.6 L1277.0,344.7 L1279.0,342.8 L1281.0,340.9 L1283.0,339.0 L1285.0,337.1 L1287.0,335.2 L1289.0,333.3 L1291.0,331.4 L1293.0,329.5 L1295.0,327.6 L1297.0,325.7 L1299.0,323.8 L1301.0,321.9 L1303.0,320.0 L1305.0,318.1 L1307.0,316.2 L1309.0,314.3 L1311.0,312.5 L1313.0,310.6 L1315.0,308.7 L1317.0,306.8 L1319.0,304.9 L1321.0,303.1 L1323.0,301.2 L1325.0,299.4 L1327.0,297.5 L1329.0,295.7 L1331.0,293.8 L1333.0,292.0 L1335.0,290.2 L1337.0,288.4 L1339.0,286.6 L1341.0,284.8 L1343.0,283.0 L1345.0,281.2 L1347.0,279.5 L1349.0,277.7 L1351.0,276.0 L1353.0,274.2 L1355.0,272.5 L1357.0,270.8 L1359.0,269.1 L1361.0,267.4 L1363.0,265.8 L1365.0,264.1 L1367.0,262.5 L1369.0,260.8 L1371.0,259.2 L1373.0,257.6 L1375.0,256.0 L1377.0,254.4 L1379.0,252.8 L1381.0,251.2 L1383.0,249.6 L1385.0,248.1 L1387.0,246.5 L1389.0,244.9 L1391.0,243.4 L1393.0,241.9 L1395.0,240.4 L1397.0,238.8 L1399.0,237.3 L1401.0,235.8 L1403.0,234.4 L1405.0,232.9 L1407.0,231.4 L1409.0,230.0 L1411.0,228.5 L1413.0,227.1 L1415.0,225.7 L1417.0,224.3 L1419.0,222.9 L1421.0,221.5 L1423.0,220.1 L1425.0,218.7 L1427.0,217.4 L1429.0,216.0 L1431.0,214.7 L1433.0,213.4 L1435.0,212.1 L1437.0,210.8 L1439.0,209.5 L1441.0,208.2 L1443.0,207.0 L1445.0,205.7 L1447.0,204.5 L1449.0,203.3 L1451.0,202.0 L1453.0,200.9 L1455.0,199.7 L1457.0,198.5 L1459.0,197.3 L1461.0,196.2 L1463.0,195.0 L1465.0,193.9 L1467.0,192.8 L1469.0,191.7 L1471.0,190.6 L1473.0,189.5 L1475.0,188.4 L1477.0,187.3 L1479.0,186.3 L1481.0,185.2 L1483.0,184.2 L1485.0,183.1 L1487.0,182.1 L1489.0,181.1 L1491.0,180.0 L1493.0,179.0 L1495.0,178.0 L1497.0,177.0 L1499.0,176.0 L1501.0,175.1 L1503.0,174.1 L1505.0,173.1 L1507.0,172.1 L1509.0,171.2 L1511.0,170.2 L1513.0,169.2 L1515.0,168.3 L1517.0,167.3 L1519.0,166.4 L1521.0,165.5 L1523.0,164.6 L1525.0,163.6 L1527.0,162.7 L1529.0,161.8 L1531.0,160.9 L1533.0,160.1 L1535.0,159.2 L1537.0,158.3 L1539.0,157.5 L1541.0,156.6 L1543.0,155.8 L1545.0,155.0 L1547.0,154.2 L1549.0,153.4 L1551.0,152.6 L1553.0,151.8 L1555.0,151.0 L1557.0,150.2 L1559.0,149.4 L1561.0,148.6 L1563.0,147.9 L1565.0,147.1 L1567.0,146.4 L1569.0,145.7 L1571.0,144.9 L1573.0,144.2 L1575.0,143.5 L1577.0,142.8 L1579.0,142.1 L1581.0,141.5 L1583.0,140.8 L1585.0,140.1 L1587.0,139.5 L1589.0,138.8 L1591.0,138.2 L1593.0,137.6 L1595.0,137.0 L1597.0,136.3 L1599.0,135.7 L1601.0,135.1 L1603.0,134.6 L1605.0,134.0 L1607.0,133.4 L1609.0,132.8 L1611.0,132.2 L1613.0,131.7 L1615.0,131.1 L1617.0,130.5 L1619.0,130.0 L1621.0,129.4 L1623.0,128.9 L1625.0,128.4 L1627.0,127.8 L1629.0,127.3 L1631.0,126.7 L1633.0,126.2 L1635.0,125.7 L1637.0,125.1 L1639.0,124.6 L1641.0,124.1 L1643.0,123.6 L1645.0,123.1 L1647.0,122.6 L1649.0,122.1 L1651.0,121.5 L1653.0,121.0 L1655.0,120.5 L1657.0,120.1 L1659.0,119.6 L1661.0,119.1 L1663.0,118.6 L1665.0,118.1 L1667.0,117.6 L1669.0,117.1 L1672.0,116.4" stroke="#000000" stroke-width="8.0"/>
</g>
<rect x="214" y="633" width="425" height="220" fill="#262626" shape-rendering="crispEdges"/>
<rect x="218" y="638" width="417" height="210" fill="#ffffff" shape-rendering="crispEdges"/>
<line x1="235" y1="677.0" x2="432.3" y2="677.0" stroke="#ff0000" stroke-width="8.0" stroke-dasharray="40 14 11 13.55" shape-rendering="crispEdges"/>
<line x1="235" y1="743.0" x2="432.3" y2="743.0" stroke="#0000ff" stroke-width="8.0" stroke-dasharray="40 14 11 13.55" shape-rendering="crispEdges"/>
<line x1="235" y1="809.0" x2="432.3" y2="809.0" stroke="#000000" stroke-width="8.0" shape-rendering="crispEdges"/>
<text class="tk" transform="matrix(0.99367,0,0,1.00500,171.06,930.95)">24</text>
<text class="tk" transform="matrix(1.03779,0,0,1.00500,463.26,930.95)">26</text>
<text class="tk" transform="matrix(1.01395,0,0,1.00500,757.82,930.95)">28</text>
<text class="tk" transform="matrix(1.02430,0,0,1.00500,1052.24,930.95)">30</text>
<text class="tk" transform="matrix(1.02857,0,0,1.00500,1345.03,930.95)">32</text>
<text class="tk" transform="matrix(0.99455,0,0,1.00500,1639.11,930.95)">34</text>
<text class="tk" transform="matrix(1.04400,0,0,1.01000,152.91,58.25)">0</text>
<text class="tk" transform="matrix(0.96629,0,0,1.01000,134.21,194.92)">-5</text>
<text class="tk" transform="matrix(1.00746,0,0,1.01000,105.24,331.58)">-10</text>
<text class="tk" transform="matrix(0.98231,0,0,1.01000,105.28,468.25)">-15</text>
<text class="tk" transform="matrix(1.00746,0,0,1.01000,105.24,604.92)">-20</text>
<text class="tk" transform="matrix(0.98095,0,0,1.01000,105.08,741.58)">-25</text>
<text class="tk" transform="matrix(1.00203,0,0,1.01000,105.45,878.25)">-30</text>
<text class="lb" transform="matrix(1.01021,0,0,0.98644,706.68,1010.04)">Frequency (GHz)</text>
<text class="lb" transform="matrix(0,-1.00751,0.97815,0,75.31,807.41)">Reflection Coefficient (dB)</text>
<text class="lg" transform="matrix(0.96793,0,0,0.97600,444.69,692.42)">Li=0.95</text>
<text class="lg" transform="matrix(0.96793,0,0,0.97600,444.69,758.32)">Li=1.05</text>
<text class="lg" transform="matrix(0.96793,0,0,0.97600,444.69,824.22)">Li=1.15</text>
</svg>
</body>
</html>
